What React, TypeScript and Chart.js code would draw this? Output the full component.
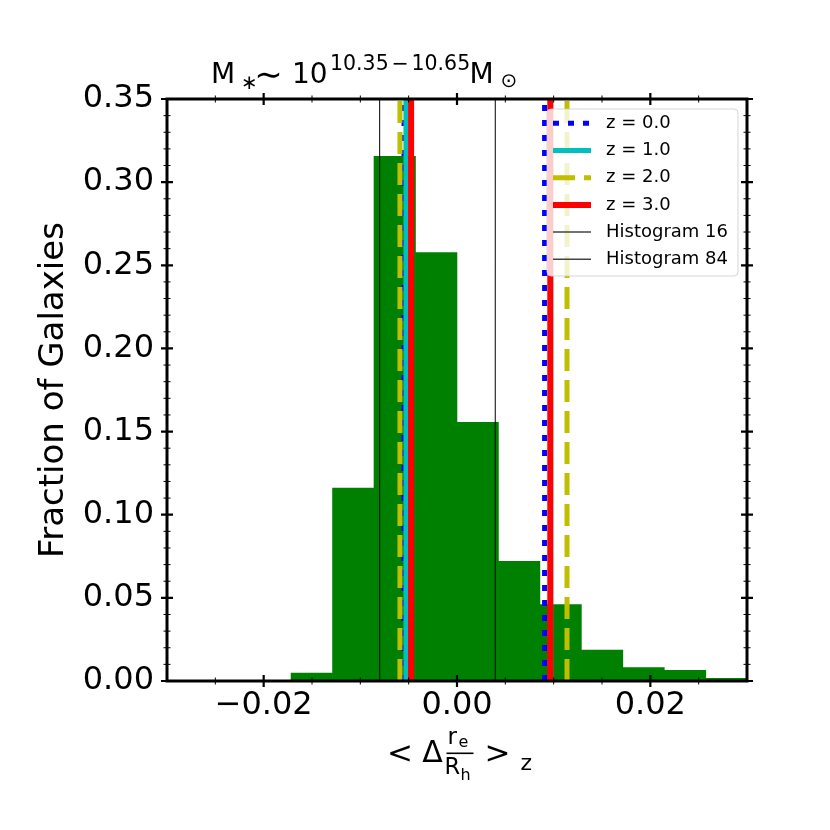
import React, { useEffect, useRef } from 'react';
import { Chart, registerables } from 'chart.js';

Chart.register(...registerables);

const FONT = '"DejaVu Sans", sans-serif';

// Histogram (bin centres, fraction of galaxies)
const binCenters = [-0.01502, -0.01073, -0.00644, -0.00215, 0.00214, 0.00643, 0.01072, 0.01501, 0.0193, 0.02359, 0.02788];
const binFractions = [0.0048, 0.116, 0.3155, 0.2576, 0.1556, 0.072, 0.0459, 0.0186, 0.008, 0.0064, 0.0016];

// Redshift percentile lines
const seriesLabels = ['z = 0.0', 'z = 1.0', 'z = 2.0', 'z = 3.0'];
const seriesLow = [-0.00548, -0.00528, -0.0059, -0.00475];
const seriesHigh = [0.00906, 0.0097, 0.01138, 0.00965];
const seriesColors = ['#0000ff', '#00bfbf', '#bfbf00', '#ff0000'];
const seriesWidths = [5, 5, 5, 6];
const seriesDashes: number[][] = [[6, 9], [], [22, 9], []];

// Histogram percentile lines
const histLabels = ['Histogram 16', 'Histogram 84'];
const histValues = [-0.008, 0.00396];

// Axes
const xRange = [-0.03, 0.03];
const yRange = [0, 0.35];
const xTicks = [-0.02, 0, 0.02];
const xTickLabels = ['\u22120.02', '0.00', '0.02'];
const yTicks = [0, 0.05, 0.1, 0.15, 0.2, 0.25, 0.3, 0.35];
const yTickLabels = ['0.00', '0.05', '0.10', '0.15', '0.20', '0.25', '0.30', '0.35'];
const xMinorStep = 0.005;
const yMinorStep = 0.01;

const axesPlugin = {
  id: 'mplAxes',
  afterDatasetsDraw(chart: any) {
    const { ctx, chartArea: a, scales } = chart;
    const sx = scales.x;
    const sy = scales.y;
    ctx.save();
    ctx.strokeStyle = '#000';
    const near = (v: number, arr: number[]) => arr.some((t) => Math.abs(t - v) < 1e-9);
    const tickX = (v: number, len: number, w: number) => {
      const px = sx.getPixelForValue(v);
      ctx.lineWidth = w;
      ctx.beginPath();
      ctx.moveTo(px, a.bottom - len);
      ctx.lineTo(px, a.bottom + len);
      ctx.moveTo(px, a.top - len);
      ctx.lineTo(px, a.top + len);
      ctx.stroke();
    };
    const tickY = (v: number, len: number, w: number) => {
      const py = sy.getPixelForValue(v);
      ctx.lineWidth = w;
      ctx.beginPath();
      ctx.moveTo(a.left - len, py);
      ctx.lineTo(a.left + len, py);
      ctx.moveTo(a.right - len, py);
      ctx.lineTo(a.right + len, py);
      ctx.stroke();
    };
    for (let i = 1; xRange[0] + i * xMinorStep < xRange[1] - 1e-9; i++) {
      const v = xRange[0] + i * xMinorStep;
      if (!near(v, xTicks)) tickX(v, 3.5, 1);
    }
    for (let i = 1; yRange[0] + i * yMinorStep < yRange[1] - 1e-9; i++) {
      const v = yRange[0] + i * yMinorStep;
      if (!near(v, yTicks)) tickY(v, 3.5, 1);
    }
    xTicks.forEach((v) => tickX(v, 6, 2.2));
    yTicks.forEach((v) => tickY(v, 6, 2.2));
    ctx.lineWidth = 3;
    ctx.strokeRect(a.left, a.top, a.right - a.left, a.bottom - a.top);
    ctx.restore();
  },
};

const textPlugin = {
  id: 'mplText',
  afterDraw(chart: any) {
    const { ctx, chartArea: a } = chart;
    ctx.save();
    ctx.fillStyle = '#000';
    ctx.textBaseline = 'alphabetic';
    const put = (t: string, size: number, x: number, y: number, align: CanvasTextAlign = 'left') => {
      ctx.font = `${size}px ${FONT}`;
      ctx.textAlign = align;
      ctx.fillText(t, x, y);
    };
    // Title: M* ~ 10^{10.35 - 10.65} M_sun
    put('M', 28, 211, 83.3);
    put('\u2217', 20, 249.5, 89, 'center');
    put('\u223C', 34, 268.5, 86, 'center');
    put('10', 28, 292, 83.3);
    put('10.35', 20.5, 330, 70);
    put('\u2212', 20.5, 400, 70, 'center');
    put('10.65', 20.5, 411.5, 70);
    put('M', 28, 469.5, 83.3);
    put('\u2299', 20, 509, 86.5, 'center');

    // X label: < Delta_{r_e/R_h} >_z
    put('<', 31, 400, 762.5, 'center');
    put('\u0394', 30, 432.5, 762, 'center');
    ctx.lineWidth = 1.6;
    ctx.strokeStyle = '#000';
    ctx.beginPath();
    ctx.moveTo(446.5, 753.3);
    ctx.lineTo(473.5, 753.3);
    ctx.stroke();
    put('r', 23, 447.5, 743.5);
    put('e', 16, 458.5, 747);
    put('R', 22.5, 444.5, 773.5);
    put('h', 16, 460.5, 780);
    put('>', 31, 497.5, 762.5, 'center');
    put('z', 22, 520.5, 770);

    // Y label
    ctx.save();
    ctx.translate(54, (a.top + a.bottom) / 2);
    ctx.rotate(-Math.PI / 2);
    ctx.font = `34px ${FONT}`;
    ctx.textAlign = 'center';
    ctx.textBaseline = 'middle';
    ctx.fillText('Fraction of Galaxies', 0, 0);
    ctx.restore();

    // Legend
    const bx = 547, by = 109, bw = 191, bh = 167, r = 4;
    ctx.beginPath();
    ctx.moveTo(bx + r, by);
    ctx.lineTo(bx + bw - r, by);
    ctx.quadraticCurveTo(bx + bw, by, bx + bw, by + r);
    ctx.lineTo(bx + bw, by + bh - r);
    ctx.quadraticCurveTo(bx + bw, by + bh, bx + bw - r, by + bh);
    ctx.lineTo(bx + r, by + bh);
    ctx.quadraticCurveTo(bx, by + bh, bx, by + bh - r);
    ctx.lineTo(bx, by + r);
    ctx.quadraticCurveTo(bx, by, bx + r, by);
    ctx.closePath();
    ctx.fillStyle = 'rgba(255,255,255,0.8)';
    ctx.fill();
    ctx.strokeStyle = 'rgba(204,204,204,0.8)';
    ctx.lineWidth = 1;
    ctx.stroke();

    const rowY = (i: number) => 123.3 + i * 27.2;
    const entries = [
      ...seriesLabels.map((l, i) => ({ label: l, color: seriesColors[i], width: seriesWidths[i], dash: seriesDashes[i] })),
      ...histLabels.map((l) => ({ label: l, color: '#444', width: 1.5, dash: [] as number[] })),
    ];
    entries.forEach((e, i) => {
      const y = rowY(i);
      ctx.save();
      ctx.strokeStyle = e.color;
      ctx.lineWidth = e.width;
      ctx.setLineDash(e.dash);
      ctx.lineCap = 'butt';
      ctx.beginPath();
      ctx.moveTo(553, y);
      ctx.lineTo(591, y);
      ctx.stroke();
      ctx.restore();
      ctx.fillStyle = '#000';
      ctx.font = `18px ${FONT}`;
      ctx.textAlign = 'left';
      ctx.textBaseline = 'middle';
      ctx.fillText(e.label, 606, y);
    });
    ctx.restore();
  },
};

export default function App() {
  const canvasRef = useRef<HTMLCanvasElement | null>(null);

  useEffect(() => {
    const canvas = canvasRef.current;
    if (!canvas) return;

    const vline = (v: number) => [
      { x: v, y: yRange[0] },
      { x: v, y: yRange[1] },
    ];

    const datasets: any[] = [
      {
        type: 'bar',
        label: 'hist',
        data: binCenters.map((c, i) => ({ x: c, y: binFractions[i] })),
        backgroundColor: '#008000',
        borderWidth: 0,
        barPercentage: 1,
        categoryPercentage: 1,
        order: 100,
      },
    ];
    seriesLabels.forEach((l, i) => {
      [seriesLow[i], seriesHigh[i]].forEach((v) => {
        datasets.push({
          type: 'line',
          label: l,
          data: vline(v),
          borderColor: seriesColors[i],
          borderWidth: seriesWidths[i],
          borderDash: seriesDashes[i],
          borderCapStyle: 'butt',
          pointRadius: 0,
          fill: false,
          order: 50 - i * 10,
        });
      });
    });
    histValues.forEach((v, i) => {
      datasets.push({
        type: 'line',
        label: histLabels[i],
        data: vline(v),
        borderColor: '#000',
        borderWidth: 1,
        pointRadius: 0,
        fill: false,
        order: 5,
      });
    });

    const chart = new Chart(canvas, {
      type: 'bar',
      data: { datasets },
      options: {
        animation: false,
        responsive: false,
        devicePixelRatio: 1,
        parsing: true,
        layout: { padding: { left: 0, right: 83, top: 99, bottom: 0 } },
        plugins: {
          legend: { display: false },
          tooltip: { enabled: false },
          title: { display: false },
        },
        scales: {
          x: {
            type: 'linear',
            min: xRange[0],
            max: xRange[1],
            offset: false,
            grid: { display: false, drawTicks: false },
            border: { display: false },
            afterBuildTicks: (s: any) => {
              s.ticks = xTicks.map((v) => ({ value: v }));
            },
            afterFit: (s: any) => {
              s.height = 149;
            },
            ticks: {
              autoSkip: false,
              maxRotation: 0,
              padding: 5,
              color: '#000',
              font: { family: FONT, size: 32 },
              callback: (_v: any, i: number) => xTickLabels[i],
            },
          },
          y: {
            type: 'linear',
            min: yRange[0],
            max: yRange[1],
            grid: { display: false, drawTicks: false },
            border: { display: false },
            afterBuildTicks: (s: any) => {
              s.ticks = yTicks.map((v) => ({ value: v }));
            },
            afterFit: (s: any) => {
              s.width = 167;
            },
            ticks: {
              autoSkip: false,
              padding: 13,
              color: '#000',
              font: { family: FONT, size: 32 },
              callback: (_v: any, i: number) => yTickLabels[i],
            },
          },
        },
      } as any,
      plugins: [axesPlugin, textPlugin],
    });

    return () => chart.destroy();
  }, []);

  return (
    <div style={{ position: 'fixed', left: 0, top: 0, width: 830, height: 830, background: '#fff' }}>
      <canvas ref={canvasRef} width={830} height={830} style={{ width: 830, height: 830 }} />
    </div>
  );
}
